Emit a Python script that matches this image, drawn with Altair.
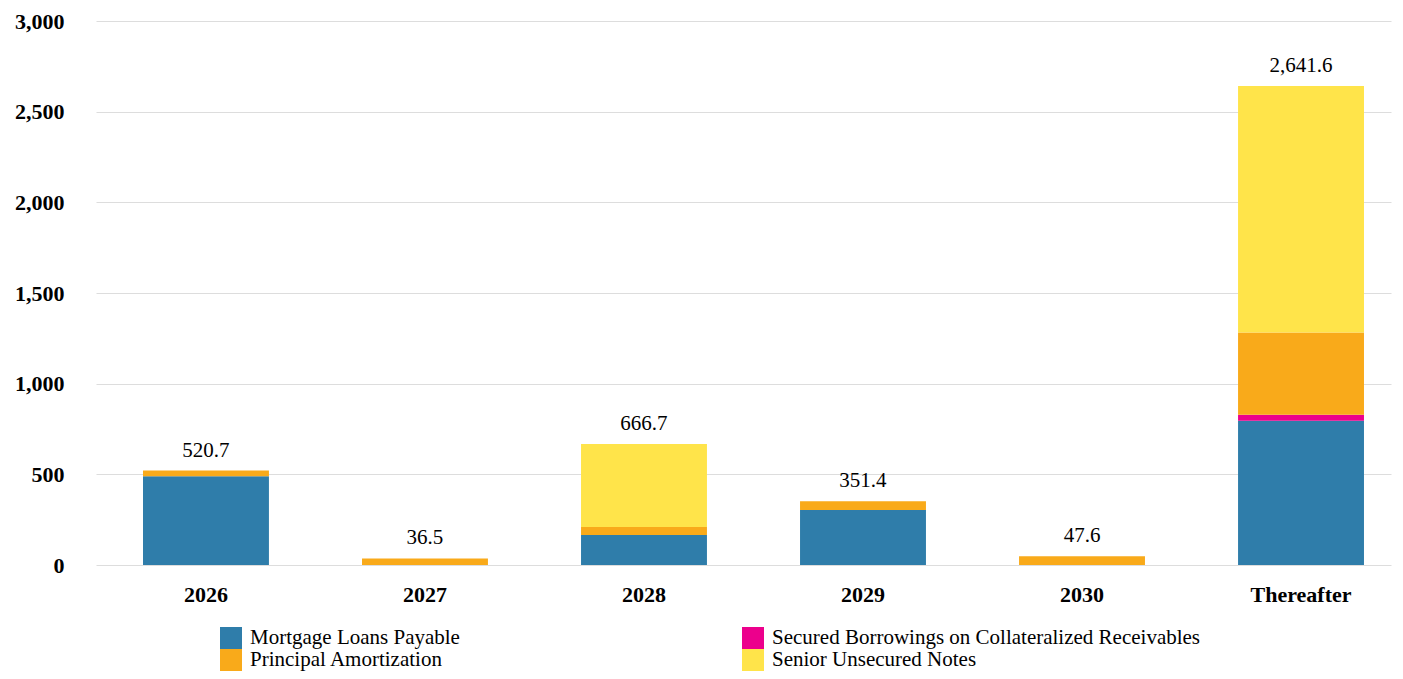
import altair as alt
import pandas as pd

categories = ["2026", "2027", "2028", "2029", "2030", "Thereafter"]
series = [
    "Mortgage Loans Payable",
    "Secured Borrowings on Collateralized Receivables",
    "Principal Amortization",
    "Senior Unsecured Notes",
]
mortgage = [490.0, 0.0, 166.0, 303.0, 0.0, 796.0]
secured = [0.0, 0.0, 0.0, 0.0, 0.0, 33.0]
principal = [30.7, 36.5, 44.0, 48.4, 47.6, 453.0]
senior = [0.0, 0.0, 456.7, 0.0, 0.0, 1359.6]
totals = [520.7, 36.5, 666.7, 351.4, 47.6, 2641.6]
total_labels = ["520.7", "36.5", "666.7", "351.4", "47.6", "2,641.6"]
colors = {"Mortgage Loans Payable": "#2F7DAA",
          "Secured Borrowings on Collateralized Receivables": "#EC008C",
          "Principal Amortization": "#F9AA1A",
          "Senior Unsecured Notes": "#FFE44A"}

# legend is filled column by column: column 1 = Mortgage, Principal; column 2 = Secured, Senior
legend_order = [series[0], series[2], series[1], series[3]]

rows = []
for si, (name, vals) in enumerate(zip(series, [mortgage, secured, principal, senior])):
    for c, v in zip(categories, vals):
        rows.append({"cat": c, "series": name, "value": v, "order": si})
df = pd.DataFrame(rows)
tdf = pd.DataFrame({"cat": categories, "total": totals, "label": total_labels})

FONT = "Liberation Serif"
xscale = alt.Scale(domain=categories, paddingInner=0.425, paddingOuter=0.169, align=0.635)

bars = alt.Chart(df).mark_bar().encode(
    x=alt.X("cat:N", sort=categories, scale=xscale,
            axis=alt.Axis(title=None, labelAngle=0, labelFont=FONT, labelFontWeight="bold",
                          labelFontSize=22, labelColor="black", domain=False, ticks=False,
                          labelPadding=19, grid=False)),
    y=alt.Y("value:Q", stack="zero",
            scale=alt.Scale(domain=[0, 3000], nice=False),
            axis=alt.Axis(title=None, values=[0, 500, 1000, 1500, 2000, 2500, 3000], format=",.0f",
                          labelFont=FONT, labelFontWeight="bold", labelFontSize=22,
                          labelColor="black", domain=False, ticks=False, labelPadding=32,
                          grid=True, gridColor="#DDDDDD", gridWidth=1)),
    color=alt.Color("series:N", sort=legend_order,
                    scale=alt.Scale(domain=legend_order, range=[colors[s] for s in legend_order]),
                    legend=alt.Legend(title=None, orient="none", legendX=124, legendY=606,
                                      columns=2, columnPadding=282, rowPadding=0,
                                      symbolType="square", symbolSize=484, symbolStrokeWidth=0,
                                      symbolOpacity=1, labelFont=FONT, labelFontSize=21,
                                      labelColor="black", labelOffset=8, padding=0,
                                      labelLimit=600)),
    order=alt.Order("order:Q", sort="ascending"),
)

labels = alt.Chart(tdf).mark_text(baseline="bottom", dy=-10, font=FONT, fontSize=21,
                                  color="black").encode(
    x=alt.X("cat:N", sort=categories, scale=xscale),
    y=alt.Y("total:Q"),
    text="label:N",
)

chart = alt.layer(bars, labels).properties(
    width=1295, height=544,
    padding={"left": 6, "top": 2, "right": 1, "bottom": 0},
    background="white",
).configure_view(stroke=None)

chart.save("out.html", embed_options={"renderer": "svg", "actions": False})
